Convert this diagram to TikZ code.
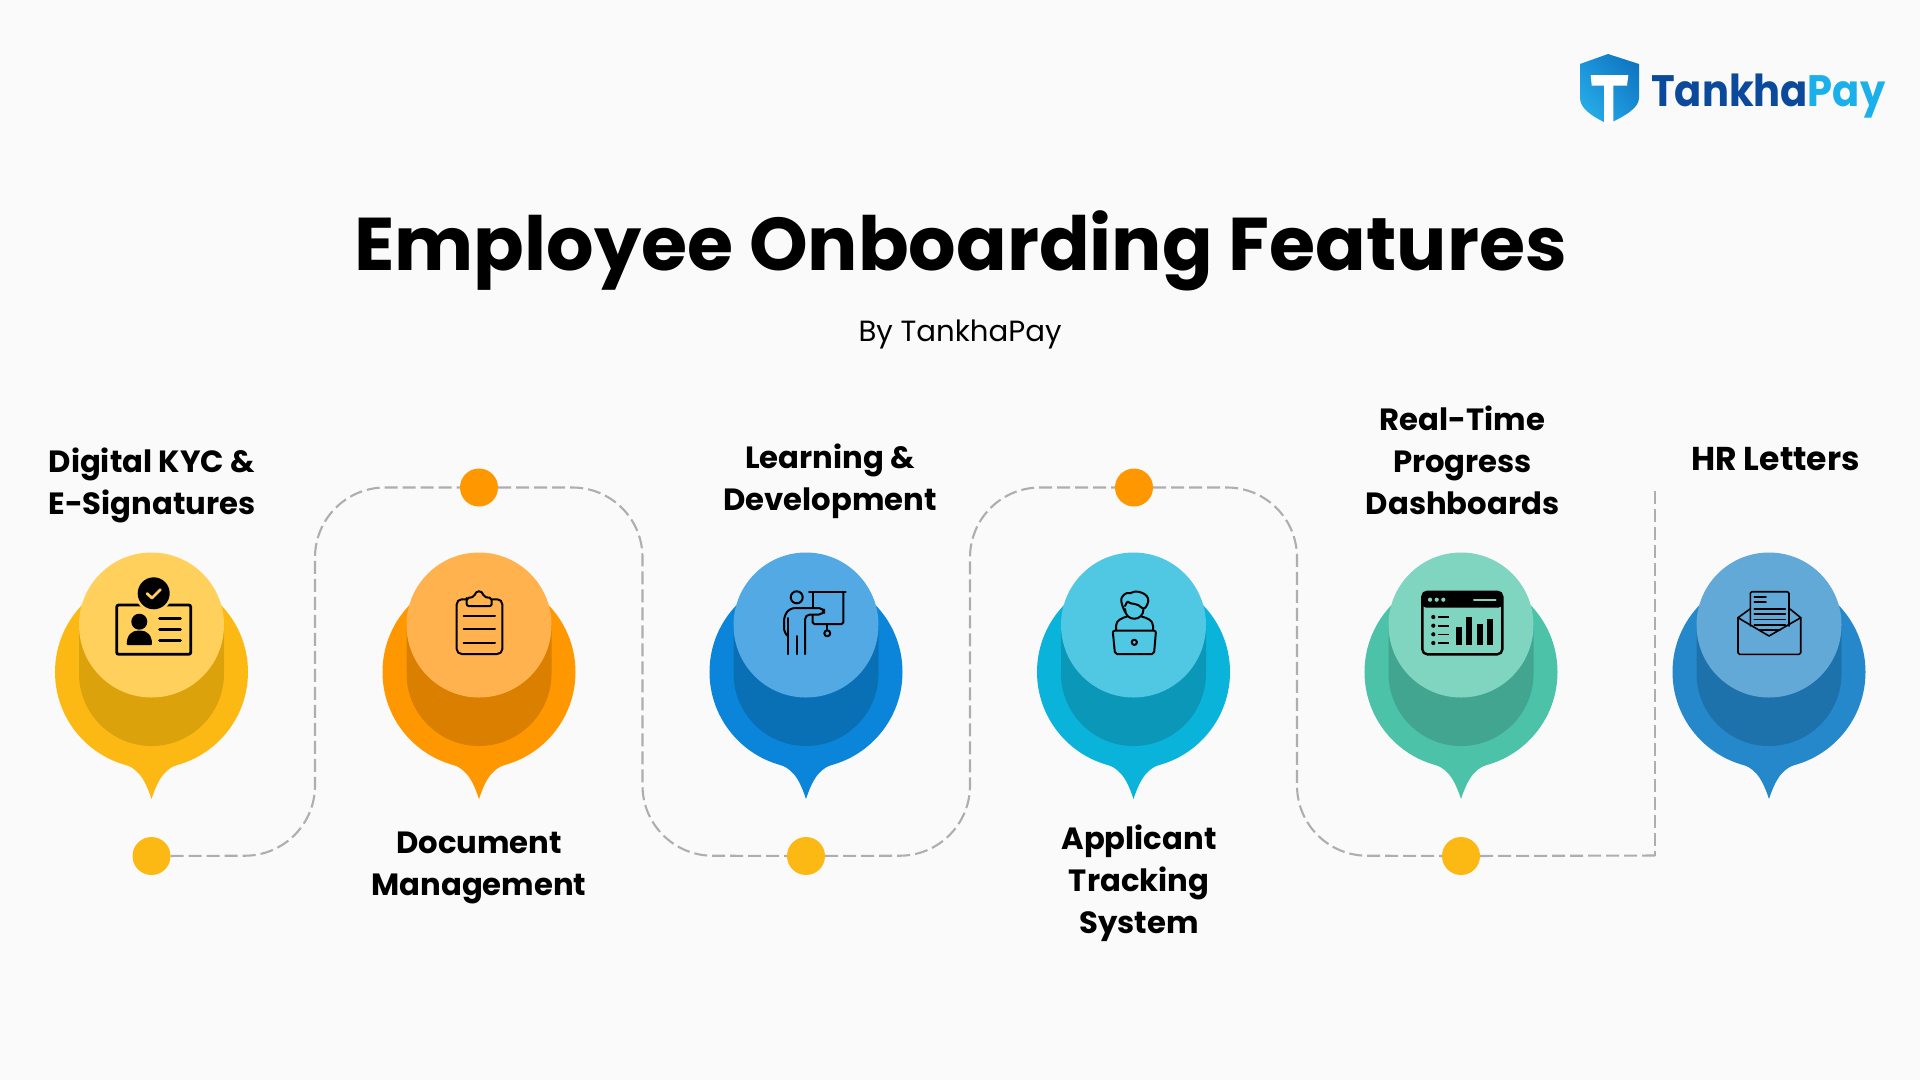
\documentclass[tikz,border=0pt]{standalone}
\usepackage{fontspec}
\setmainfont{Poppins}
\newfontfamily\titlefont{Poppins Bold}
\usetikzlibrary{calc,shadings}
\definecolor{bgc}{HTML}{FAFAFA}
\definecolor{dashc}{HTML}{AEAEAE}
\definecolor{dotA}{HTML}{FDB913}
\definecolor{dotB}{HTML}{FF9800}
\definecolor{aO}{HTML}{FDB913}\definecolor{aD}{HTML}{DBA20C}\definecolor{aL}{HTML}{FFD05C}
\definecolor{bO}{HTML}{FF9800}\definecolor{bD}{HTML}{DB7F00}\definecolor{bL}{HTML}{FFB24E}
\definecolor{cO}{HTML}{0B85DA}\definecolor{cD}{HTML}{0A70B6}\definecolor{cL}{HTML}{52A9E3}
\definecolor{dO}{HTML}{0AB3D9}\definecolor{dD}{HTML}{0A97B8}\definecolor{dL}{HTML}{50C8E3}
\definecolor{eO}{HTML}{4CC2A8}\definecolor{eD}{HTML}{42A58F}\definecolor{eL}{HTML}{80D5C1}
\definecolor{fO}{HTML}{2488CB}\definecolor{fD}{HTML}{1D72AC}\definecolor{fL}{HTML}{63A9D8}
\definecolor{logoA}{HTML}{0B4A9A}
\definecolor{logoB}{HTML}{1CB0EA}
\definecolor{shA}{HTML}{2CB6EC}
\definecolor{shB}{HTML}{0C6FBC}
\definecolor{shC}{HTML}{1A90D8}
\newcommand{\pinshape}[4]{%
  \begin{scope}[shift={(#1,0)}]
    \fill[#2] (0,672) circle[radius=96.5];
    \fill[#2] (-30,763) .. controls (-15,768) and (-8,775) .. (0,799)
      .. controls (8,775) and (15,768) .. (30,763) -- cycle;
    \fill[#3] (-72.5,625) -- (-72.5,673.5) arc[start angle=180,end angle=0,radius=72.5] -- (72.5,625) -- cycle;
    \fill[#4] (0,625) circle[radius=72.5];
  \end{scope}}
\tikzset{
  conn/.style={draw=dashc,line width=2.1pt,dash pattern=on 13pt off 5pt},
  dotnode/.style={circle,minimum size=38pt,inner sep=0pt,fill=#1},
  lab/.style={align=center,inner sep=0pt,font=\titlefont\fontsize{30.7}{42}\selectfont,text=black},
  ico/.style={draw=black,line width=2pt,line cap=round,line join=round},
  icot/.style={draw=black,line width=1.6pt,line cap=round,line join=round}
}
\begin{document}
\begin{tikzpicture}[x=1pt,y=-1pt]
\useasboundingbox (0,0) rectangle (1920,1080);
\fill[bgc] (0,0) rectangle (1920,1080);

% connectors first
\node[dotnode=dotA] (d1) at (151.5,856) {};
\node[dotnode=dotB] (d2) at (479,487.5) {};
\node[dotnode=dotA] (d3) at (806,856) {};
\node[dotnode=dotB] (d4) at (1134,487.5) {};
\node[dotnode=dotA] (d5) at (1461,856) {};
\coordinate (c1b) at (315,855.5);
\coordinate (c1t) at (315,487.5);
\coordinate (c2t) at (642.5,487.5);
\coordinate (c2b) at (642.5,855.5);
\coordinate (c3b) at (970,855.5);
\coordinate (c3t) at (970,487.5);
\coordinate (c4t) at (1297,487.5);
\coordinate (c4b) at (1297,855.5);
\coordinate (c5x) at (1660,855.5);
\coordinate (c5b) at (1655,855.5);
\coordinate (c5t) at (1655,491);
\draw[conn,rounded corners=70pt] (d1) -- (c1b) -- (c1t) -- (d2);
\draw[conn,rounded corners=70pt] (d2) -- (c2t) -- (c2b) -- (d3);
\draw[conn,rounded corners=70pt] (d3) -- (c3b) -- (c3t) -- (d4);
\draw[conn,rounded corners=70pt] (d4) -- (c4t) -- (c4b) -- (d5);
\draw[conn] (d5) -- (c5x);
\draw[conn] (c5t) -- (c5b);

% pins
\pinshape{151.5}{aO}{aD}{aL}
\pinshape{479}{bO}{bD}{bL}
\pinshape{806}{cO}{cD}{cL}
\pinshape{1133.5}{dO}{dD}{dL}
\pinshape{1461}{eO}{eD}{eL}
\pinshape{1769}{fO}{fD}{fL}

% title
\node[inner sep=0pt,anchor=base,font=\titlefont\fontsize{74.7}{80}\selectfont] (title) at (960.5,270) {Employee Onboarding Features};
\node[inner sep=0pt,anchor=base,font=\fontsize{29.2}{34}\selectfont] (sub) at (960,341) {By TankhaPay};

% labels
\node[lab] (l1) at (152,485) {Digital KYC \&\\E-Signatures};
\node[lab] (l2) at (479,867.5) {Document\\Management};
\node[lab] (l3) at (830,481) {Learning \&\\Development};
\node[lab] (l4) at (1139,883) {Applicant\\Tracking\\System};
\node[lab] (l5) at (1462.5,460) {Real-Time\\Progress\\Dashboards};
\node[lab,font=\titlefont\fontsize{33}{42}\selectfont] (l6) at (1775.5,459) {HR Letters};

% logo
\shade[lower left=shA,upper right=shB,upper left=shC,lower right=shC]
  (1608,54) -- (1639,64) -- (1639,98) .. controls (1639,108) and (1625,116) .. (1608,124)
  .. controls (1591,116) and (1580,108) .. (1580,98) -- (1580,64) -- cycle;
\fill[white] (1590.7,75) -- (1628.3,75) -- (1627,85.5) -- (1613.3,85.5) -- (1613.3,124) -- (1604,124) -- (1604,85.5) -- (1591.7,85.5) -- cycle;
\node[inner sep=0pt,anchor=base west,font=\titlefont\fontsize{44}{50}\selectfont] (logo) at (1651,106) {\scalebox{0.91}[1]{\textcolor{logoA}{Tankha}\textcolor{logoB}{Pay}}};

% icon 1: ID card
\draw[black,line width=2.8pt,rounded corners=2pt] (116.7,605) rectangle (190.7,654.3);
\fill[aL] (153.7,593.3) circle[radius=18.5];
\fill[black] (153.7,593.3) circle[radius=16];
\draw[aL,line width=2.8pt,line cap=round,line join=round] (147,593.5) -- (152,598) -- (160.5,589.5);
\fill[black] (139.3,621.7) circle[radius=8];
\fill[black,rounded corners=1pt] (126.7,645) .. controls (126.7,635) and (132,630.5) .. (139.3,630.5) .. controls (147,630.5) and (152,635) .. (152,645) -- cycle;
\foreach \yy in {618.7,629.7,640.7} \draw[black,line width=2.8pt,line cap=round] (159.5,\yy) -- (180.5,\yy);

% icon 2: clipboard
\draw[ico,rounded corners=5pt] (466.7,599.3) -- (456.7,599.3) -- (456.7,654) -- (502.3,654) -- (502.3,599.3) -- (491.7,599.3);
\draw[ico,fill=bL,rounded corners=2pt] (466.7,600) -- (466.7,606) -- (491.7,606) -- (491.7,598) -- (484,597) .. controls (482,590) and (476,590) .. (474,597) -- (466.7,598) -- cycle;
\foreach \yy in {616,629.3,642.7} \draw[ico] (463.5,\yy) -- (495,\yy);

% icon 3: presenter
\draw[ico] (796.7,597.3) circle[radius=6];
\draw[ico] (809,592) -- (845.7,592);
\draw[ico,rounded corners=1.5pt] (812.7,592) -- (812.7,607);
\draw[ico,rounded corners=1.5pt] (843.3,592) -- (843.3,624) -- (812.7,624) -- (812.7,615);
\draw[ico] (827.3,624) -- (827.3,630);
\draw[ico] (827.3,633.3) circle[radius=3];
\draw[ico,rounded corners=5pt] (805,654) -- (805,614.5) -- (824,614.5) -- (824,608) -- (790,608) -- (784,616) -- (784,633) -- (788.3,636.5);
\draw[ico] (788.3,618) -- (788.3,654);
\draw[ico] (796.7,636) -- (796.7,654);

% icon 4: person with laptop
\draw[ico,fill=none] (1125,609) .. controls (1125,622) and (1143.5,622) .. (1143.5,609);
\draw[ico,rounded corners=3pt] (1125,612) -- (1122,605) .. controls (1120,595) and (1127,593) .. (1130,594) .. controls (1136,590) and (1149,593) .. (1148,604) -- (1143.5,610) .. controls (1138,603) and (1130,604) .. (1128,600) -- (1125,606);
\draw[ico] (1116,630) -- (1116,626) .. controls (1116,620) and (1122,618) .. (1127,616.5);
\draw[ico] (1153,630) -- (1153,626) .. controls (1153,620) and (1147,618) .. (1141.5,616.5);
\draw[ico,rounded corners=2pt] (1112.7,630.7) -- (1156,630.7) -- (1154,654) -- (1115,654) -- cycle;
\draw[ico] (1134.3,642.3) circle[radius=2.6];

% icon 5: dashboard
\fill[black,rounded corners=4pt] (1422.3,591.7) -- (1502.3,591.7) -- (1502.3,607.7) -- (1422.3,607.7) -- cycle;
\draw[black,line width=2.4pt,rounded corners=5pt] (1422.3,591.7) rectangle (1502.3,654.3);
\foreach \xx in {1430,1436.7,1443.3} \fill[eL] (\xx,599.7) circle[radius=2.1];
\draw[eL,line width=2.2pt,line cap=round] (1474,599.7) -- (1495.5,599.7);
\foreach \yy in {617,625.7,634.3,643} {
  \fill[black] (1433.3,\yy) circle[radius=2.1];
  \draw[black,line width=1.6pt] (1438.3,\yy) -- (1449,\yy);
}
\fill[black] (1456,627.3) rectangle (1462,645);
\fill[black] (1466,616.7) rectangle (1472.3,645);
\fill[black] (1476.7,624) rectangle (1482.7,645);
\fill[black] (1487.3,619.3) rectangle (1493.3,645);

% icon 6: envelope
\draw[icot,rounded corners=1.5pt] (1750.3,626) -- (1750.3,591.7) -- (1789,591.7) -- (1789,626);
\draw[icot] (1754.3,596.7) -- (1766,596.7);
\draw[icot] (1754.3,602) -- (1766,602);
\foreach \yy in {608.7,614,619.3,624.7} \draw[icot] (1754.3,\yy) -- (1785.3,\yy);
\draw[icot,rounded corners=1.5pt] (1738,617.7) -- (1738,654.3) -- (1800.7,654.3) -- (1800.7,617.7);
\draw[icot] (1750,609) -- (1738,617.7) -- (1769,636) -- (1800.7,617.7) -- (1790,609);
\draw[icot] (1759,630) -- (1780,630);
\end{tikzpicture}
\end{document}
